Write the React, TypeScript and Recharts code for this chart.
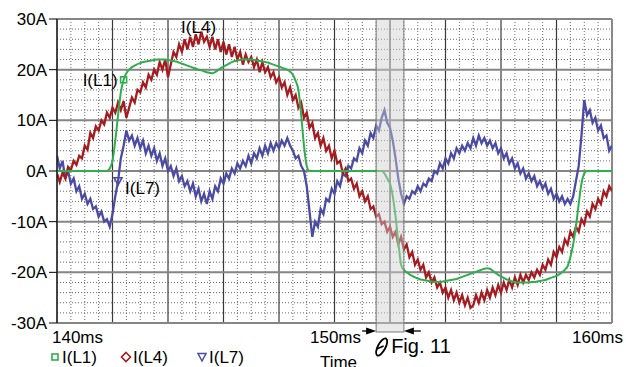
import React from 'react'
import { LineChart, Line, XAxis, YAxis, CartesianGrid, ReferenceArea, ReferenceDot } from 'recharts'

// sampled every 0.1 ms from 140 ms to 160 ms (one row = 1 ms)
const T_START = 140
const T_STEP = 0.1

// I(L1) [A]
const iL1 = [
  0, 0, 0, 0, 0, 0, 0, 0, 0, 0, // 140
  0, 0, 0, 0, 0, 0, 0, 0, 0, 0.5, // 141
  2, 6, 11, 15.5, 18, 19.3, 20, 20.5, 20.8, 21.1, // 142
  21.3, 21.5, 21.6, 21.7, 21.8, 21.9, 22, 22, 22, 22, // 143
  21.9, 21.8, 21.7, 21.6, 21.4, 21.2, 21.0, 20.8, 20.6, 20.4, // 144
  20.2, 20.0, 19.9, 19.7, 19.5, 19.4, 19.3, 19.5, 19.9, 20.3, // 145
  20.6, 20.9, 21.2, 21.5, 21.7, 21.8, 21.9, 22, 22, 22, // 146
  22, 21.9, 21.8, 21.7, 21.6, 21.5, 21.4, 21.2, 21.0, 20.8, // 147
  20.6, 20.4, 20.2, 20.0, 19.6, 19.0, 17.8, 16.0, 11, 5, // 148
  1, 0, 0, 0, 0, 0, 0, 0, 0, 0, // 149
  0, 0, 0, 0, 0, 0, 0, 0, 0, 0, // 150
  0, 0, 0, 0, 0, 0, 0, 0, -0.5, -1.5, // 151
  -2.5, -5, -9, -14, -18.5, -19.5, -20, -20.4, -20.7, -21, // 152
  -21.2, -21.4, -21.5, -21.6, -21.7, -21.8, -21.9, -21.9, -21.9, -21.8, // 153
  -21.7, -21.6, -21.5, -21.4, -21.3, -21.1, -20.9, -20.7, -20.5, -20.3, // 154
  -20.1, -19.9, -19.7, -19.5, -19.3, -19.2, -19.3, -19.7, -20.1, -20.5, // 155
  -20.8, -21.1, -21.4, -21.6, -21.8, -21.9, -22, -22, -22, -22, // 156
  -22, -21.9, -21.9, -21.8, -21.7, -21.6, -21.5, -21.3, -21.1, -20.9, // 157
  -20.7, -20.4, -20.0, -19.5, -18.8, -17, -14.5, -11, -6.5, -2.5, // 158
  -0.5, 0, 0, 0, 0, 0, 0, 0, 0, 0, // 159
  0,
]

// I(L4) [A]
const iL4 = [
  -0.5, -2.2, -0.3, -1.5, 0.8, 0.2, 2.0, 1.2, 3.0, 2.5, // 140
  5.0, 4.2, 7.5, 6.5, 8.8, 8.0, 10.0, 9.2, 11.5, 10.5, // 141
  12.5, 11.5, 13.5, 12.0, 13.8, 10.5, 12.5, 14.5, 13.5, 16.0, // 142
  15.5, 17.5, 16.5, 19.0, 18.0, 20.0, 19.0, 21.5, 20.0, 22.0, // 143
  18.5, 21.0, 23.5, 22.5, 25.0, 23.5, 26.0, 24.0, 26.5, 24.5, // 144
  27.0, 25.0, 27.5, 25.5, 26.5, 24.5, 26.5, 24.0, 26.0, 23.5, // 145
  25.5, 23.0, 25.0, 22.5, 24.5, 22.0, 23.5, 21.0, 23.0, 21.5, // 146
  22.5, 20.5, 22.0, 19.5, 21.5, 19.5, 20.5, 18.5, 19.5, 17.5, // 147
  18.5, 16.5, 17.5, 15.0, 16.5, 14.0, 15.0, 12.5, 13.5, 10.5, // 148
  11.5, 8.5, 9.5, 6.5, 7.5, 5.0, 6.5, 4.0, 5.0, 2.5, // 149
  4.0, 1.5, 2.0, -0.5, 0.5, -2.0, -1.5, -3.5, -2.5, -5.0, // 150
  -4.0, -6.0, -5.0, -7.5, -7.0, -9.0, -8.5, -10.5, -10.0, -12.0, // 151
  -11.0, -13.0, -12.0, -14.5, -13.0, -15.5, -14.5, -17.0, -16.0, -18.5, // 152
  -17.5, -19.5, -18.5, -21.0, -20.0, -22.0, -21.0, -23.0, -22.0, -24.0, // 153
  -23.0, -25.0, -23.5, -25.5, -24.0, -26.0, -24.5, -26.5, -25.0, -27.0, // 154
  -26.5, -24.5, -26.0, -24.0, -25.5, -23.5, -25.0, -23.0, -24.5, -22.5, // 155
  -24.0, -22.0, -23.5, -21.5, -23.0, -21.0, -22.5, -20.5, -22.0, -20.5, // 156
  -21.5, -20.0, -21.0, -19.5, -20.5, -18.5, -19.5, -17.5, -18.5, -16.0, // 157
  -17.0, -15.0, -16.0, -13.5, -14.5, -12.0, -13.0, -11.0, -12.0, -9.5, // 158
  -10.5, -8.0, -9.0, -6.5, -7.5, -5.5, -6.5, -4.0, -5.0, -3.0, // 159
  -4.0,
]

// I(L7) [A]
const iL7 = [
  3.0, 0.5, 2.0, -1.5, 0.0, -2.5, -1.5, -4.0, -3.0, -5.5, // 140
  -4.5, -6.5, -5.5, -7.5, -7.0, -9.0, -8.0, -10.0, -9.5, -11.0, // 141
  -8.5, -5.0, -2.0, 2.5, 5.0, 8.0, 6.0, 7.0, 5.0, 6.5, // 142
  4.5, 6.0, 3.5, 5.0, 3.0, 4.5, 2.0, 3.5, 1.0, 2.5, // 143
  0.0, 1.0, -1.0, 0.5, -2.0, -1.0, -3.0, -2.0, -4.0, -2.5, // 144
  -5.0, -3.5, -6.0, -4.5, -6.5, -4.0, -5.5, -3.0, -4.0, -1.5, // 145
  -2.5, -0.5, -1.5, 0.5, -0.5, 1.5, 0.5, 2.0, 1.0, 3.0, // 146
  1.5, 3.5, 2.5, 4.5, 3.0, 5.0, 3.5, 5.5, 4.0, 5.5, // 147
  4.5, 6.0, 5.0, 6.5, 5.0, 4.0, 2.5, 3.0, 1.0, 0.0, // 148
  -3.0, -8.0, -13.0, -10.0, -11.0, -7.5, -8.5, -5.5, -6.0, -3.5, // 149
  -4.5, -2.0, -3.0, -0.5, -1.0, 1.0, 0.5, 2.5, 2.0, 4.5, // 150
  3.5, 6.0, 5.0, 7.5, 6.5, 9.0, 8.0, 10.5, 12.0, 9.5, // 151
  8.5, 6.0, 2.5, -1.5, -4.5, -6.5, -5.0, -5.5, -4.0, -4.5, // 152
  -3.0, -4.0, -2.5, -3.0, -1.5, -2.0, 0.0, -0.5, 1.5, 0.5, // 153
  2.5, 1.5, 3.5, 2.5, 4.5, 3.5, 5.0, 4.0, 5.5, 4.5, // 154
  6.5, 5.0, 7.0, 5.5, 6.5, 5.0, 6.0, 4.5, 5.5, 3.5, // 155
  4.5, 2.5, 3.5, 1.5, 2.5, 0.5, 1.5, -0.5, 0.5, -1.5, // 156
  -0.5, -2.0, -1.0, -3.0, -2.0, -3.5, -2.5, -4.5, -3.5, -5.5, // 157
  -4.5, -6.0, -5.0, -6.5, -5.5, -6.5, -5.0, -2.0, 1.0, 7.0, // 158
  14.0, 11.0, 12.0, 9.5, 10.5, 8.0, 9.0, 6.5, 7.0, 4.0, // 159
  5.0,
]

const timeTicks = [140, 150, 160]
const currentTicks = [-30, -20, -10, 0, 10, 20, 30]
const majorTimeGrid = [140, 142, 144, 146, 148, 150, 152, 154, 156, 158, 160]
const minorTimeGrid = [
  140.5, 141, 141.5, 142.5, 143, 143.5, 144.5, 145, 145.5, 146.5, 147, 147.5,
  148.5, 149, 149.5, 150.5, 151, 151.5, 152.5, 153, 153.5, 154.5, 155, 155.5,
  156.5, 157, 157.5, 158.5, 159, 159.5,
]
const minorCurrentGrid = [
  -28, -26, -24, -22, -18, -16, -14, -12, -8, -6, -4, -2,
  2, 4, 6, 8, 12, 14, 16, 18, 22, 24, 26, 28,
]
const figWindow = [151.5, 152.5]

const series = [
  { key: 'l1', name: 'I(L1)', color: '#2fae4e', shape: 'square', values: iL1 },
  { key: 'l4', name: 'I(L4)', color: '#a51c20', shape: 'diamond', values: iL4 },
  { key: 'l7', name: 'I(L7)', color: '#4b4ba3', shape: 'triangle', values: iL7 },
]

// where the inline trace labels sit
const traceNotes = [
  { key: 'l1', t: 142.4, marker: true, dx: -6, dy: 6, anchor: 'end' },
  { key: 'l4', t: 144.4, marker: false, dx: 2, dy: -11, anchor: 'start' },
  { key: 'l7', t: 142.2, marker: true, dx: 7, dy: 13, anchor: 'start' },
]

const legendX = [55, 126, 202]

const data = iL1.map((v, i) => ({
  t: +(T_START + i * T_STEP).toFixed(1),
  l1: v,
  l4: iL4[i],
  l7: iL7[i],
}))

const FONT = '"Liberation Sans", Arial, Helvetica, sans-serif'

function Marker({ shape, cx, cy, color }: any) {
  if (shape === 'square')
    return <rect x={cx - 3} y={cy - 3} width={6} height={6} fill="none" stroke={color} strokeWidth={1.6} />
  if (shape === 'diamond')
    return <path d={`M${cx},${cy - 4.5} L${cx + 4.5},${cy} L${cx},${cy + 4.5} L${cx - 4.5},${cy} Z`} fill="none" stroke={color} strokeWidth={1.6} />
  return <path d={`M${cx - 4},${cy - 3.5} L${cx + 4},${cy - 3.5} L${cx},${cy + 4} Z`} fill="none" stroke={color} strokeWidth={1.5} />
}

function TimeTick({ x, y, payload }: any) {
  const v = payload.value
  const first = v === timeTicks[0]
  const last = v === timeTicks[timeTicks.length - 1]
  const anchor = first ? 'start' : last ? 'end' : 'middle'
  const dx = first ? -5 : last ? 11 : 1
  return (
    <g>
      <text x={x + dx} y={y + 20} textAnchor={anchor} fontSize={17} fill="#000">{`${v}ms`}</text>
      {!first && !last && (
        <text x={x + 4} y={y + 45} textAnchor="middle" fontSize={17} fill="#000">Time</text>
      )}
    </g>
  )
}

function FigBand({ x, y, width, height }: any) {
  const ay = y + height + 8
  const sx = x + 5.5
  const sy = ay + 16
  return (
    <g>
      <rect x={x} y={y} width={width} height={height + 9} fill="#cfcfcf" fillOpacity={0.45} stroke="#7a7a7a" strokeWidth={1} />
      <line x1={x - 14} y1={ay} x2={x - 4} y2={ay} stroke="#000" strokeWidth={1.3} />
      <path d={`M${x},${ay} l-10,-3.5 v7 z`} fill="#000" />
      <line x1={x + width + 4} y1={ay} x2={x + width + 17} y2={ay} stroke="#000" strokeWidth={1.3} />
      <path d={`M${x + width},${ay} l10,-3.5 v7 z`} fill="#000" />
      <ellipse cx={sx} cy={sy} rx={3.8} ry={9.5} transform={`rotate(28 ${sx} ${sy})`} fill="none" stroke="#000" strokeWidth={1.8} />
      <line x1={sx - 5} y1={sy + 2} x2={sx + 2} y2={sy - 1} stroke="#000" strokeWidth={1.5} />
      <text x={x + 15} y={ay + 22} fontSize={20} fill="#000">Fig. 11</text>
    </g>
  )
}

export default function App() {
  return (
    <div style={{ position: 'absolute', left: 0, top: 0, width: 626, height: 367, background: '#fff', fontFamily: FONT, overflow: 'hidden' }}>
      <LineChart width={626} height={367} data={data} margin={{ top: 19, right: 14, bottom: 24, left: 0 }}>
        <CartesianGrid horizontal={false} verticalValues={minorTimeGrid} stroke="#6a6a6a" strokeDasharray="1 2" />
        <CartesianGrid vertical={false} horizontalValues={minorCurrentGrid} stroke="#6a6a6a" strokeDasharray="1 2" />
        <CartesianGrid horizontal={false} verticalValues={majorTimeGrid} stroke="#3a3a3a" strokeWidth={1.2} />
        <CartesianGrid vertical={false} horizontalValues={currentTicks} stroke="#858585" strokeWidth={2} />
        <XAxis
          type="number"
          dataKey="t"
          domain={[140, 160]}
          ticks={timeTicks}
          interval={0}
          tick={TimeTick}
          tickLine={false}
          axisLine={false}
          tickSize={0}
          tickMargin={0}
          height={20}
          allowDataOverflow
        />
        <YAxis
          domain={[-30, 30]}
          ticks={currentTicks}
          interval={0}
          tickFormatter={(v: number) => `${v}A`}
          tick={{ fontSize: 17, fill: '#000' }}
          tickLine={{ stroke: '#000' }}
          axisLine={{ stroke: '#000' }}
          tickSize={8}
          tickMargin={2}
          width={57}
          allowDataOverflow
        />
        {[series[2], series[1], series[0]].map((s) => (
          <Line
            key={s.key}
            dataKey={s.key}
            type={s.key === 'l1' ? 'monotone' : 'linear'}
            stroke={s.color}
            strokeWidth={s.key === 'l1' ? 2 : 2.3}
            strokeLinejoin="miter"
            dot={false}
            activeDot={false}
            isAnimationActive={false}
          />
        ))}
        {traceNotes.map((n) => {
          const s = series.find((q) => q.key === n.key)!
          const idx = Math.round((n.t - T_START) / T_STEP)
          return (
            <ReferenceDot
              key={n.key}
              x={n.t}
              y={s.values[idx]}
              shape={(p: any) => (
                <g>
                  {n.marker && <Marker shape={s.shape} cx={p.cx} cy={p.cy} color={s.color} />}
                  <text x={p.cx + n.dx} y={p.cy + n.dy} textAnchor={n.anchor} fontSize={17} fill="#000">{s.name}</text>
                </g>
              )}
            />
          )
        })}
        <ReferenceArea x1={figWindow[0]} x2={figWindow[1]} ifOverflow="visible" zIndex={1000} shape={FigBand} />
      </LineChart>
      <svg width={626} height={367} style={{ position: 'absolute', left: 0, top: 0, pointerEvents: 'none' }}>
        {series.map((s, i) => (
          <g key={s.key}>
            <Marker shape={s.shape} cx={legendX[i]} cy={357} color={s.color} />
            <text x={legendX[i] + 7} y={363} fontSize={17} fill="#000" fontFamily={FONT}>{s.name}</text>
          </g>
        ))}
      </svg>
    </div>
  )
}
